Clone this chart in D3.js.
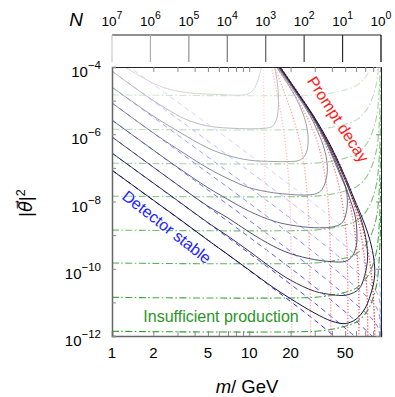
<!DOCTYPE html>
<html>
<head>
<meta charset="utf-8">
<script src="https://cdn.jsdelivr.net/npm/d3@7"></script>
<style>
  body { margin: 0; background: #fff; }
  text { font-family: "Liberation Sans", "DejaVu Sans", sans-serif; }
</style>
</head>
<body>
<svg id="chart" width="395" height="397"></svg>
<script>
// axis ranges and tick labels
const massDomain = [1, 91.19];
const thetaDomain = [1e-12, 1e-4];
const massLabels = [1, 2, 5, 10, 20, 50];
const massMinor = [1,2,3,4,5,6,7,8,9,10,20,30,40,50,60,70,80,90];
const thetaExp = [-4, -6, -8, -10, -12];
const thetaMinor = [-4,-5,-6,-7,-8,-9,-10,-11,-12];
const nExp = [7, 6, 5, 4, 3, 2, 1, 0];

// full event-number contours, [m / GeV, log10 theta^2], one per N = 10^7 .. 10^0
const solid7 = [[1.245,-4.0],[1.6,-4.27],[2.06,-4.51],[2.65,-4.67],[3.72,-4.77],[6.16,-4.82],[9.38,-4.82],[10.55,-4.71],[11.3,-4.51],[11.8,-4.27],[12.3,-4.0]];
const solid6 = [[1,-4.12],[1.6,-4.73],[2.44,-5.22],[3.42,-5.55],[4.78,-5.74],[7.29,-5.82],[13.1,-5.82],[14.8,-5.76],[15.9,-5.52],[16.3,-5.13],[16.1,-4.54],[15.3,-4.0]];
const solid5 = [[1,-4.6],[2,-5.46],[3,-5.9],[5,-6.41],[7,-6.63],[10,-6.77],[15,-6.81],[20,-6.81],[23,-6.78],[25.3,-6.65],[26.6,-6.41],[26.8,-6.05],[25.8,-5.64],[23.7,-5.22],[20.5,-4.71],[15.8,-4.0]];
const solid4 = [[1,-5.07],[2,-5.96],[3,-6.44],[5,-7.01],[7,-7.32],[10,-7.59],[15,-7.74],[20,-7.79],[25,-7.81],[30,-7.78],[33.1,-7.69],[35.5,-7.48],[37,-7.13],[36.7,-6.77],[34.3,-6.29],[27.8,-5.46],[21.2,-4.71],[16.1,-4.0]];
const solid3 = [[1,-5.58],[2,-6.47],[3,-6.98],[5,-7.59],[7,-7.94],[10,-8.29],[15,-8.58],[20,-8.7],[30,-8.78],[40,-8.76],[45,-8.7],[48,-8.61],[50.5,-8.4],[51.8,-8.11],[50.9,-7.66],[45.6,-7.18],[36.7,-6.29],[28.5,-5.46],[21.6,-4.71],[16.3,-4.0]];
const solid2 = [[1,-6.08],[2,-6.98],[3,-7.5],[5,-8.14],[7,-8.49],[10,-8.91],[15,-9.33],[20,-9.55],[30,-9.73],[40,-9.79],[50,-9.78],[56.5,-9.62],[60.3,-9.3],[60.9,-8.94],[59.3,-8.46],[54.5,-7.96],[46.4,-7.18],[37.3,-6.29],[28.9,-5.46],[21.8,-4.71],[16.4,-4.0]];
const solid1 = [[1,-6.56],[2,-7.45],[3,-7.97],[5,-8.63],[7,-9.03],[10,-9.48],[15,-10.01],[20,-10.34],[30,-10.67],[40,-10.77],[50,-10.79],[60,-10.67],[65,-10.52],[69.5,-10.19],[72.5,-9.8],[72.5,-9.45],[69.5,-8.94],[64.4,-8.46],[57.3,-7.96],[47.9,-7.18],[37.9,-6.29],[29.1,-5.46],[21.9,-4.71],[16.6,-4.0]];
const solid0 = [[1,-7.07],[2,-7.96],[3,-8.48],[5,-9.15],[7,-9.58],[10,-10.04],[15,-10.56],[20,-10.89],[30,-11.32],[40,-11.56],[50,-11.63],[60,-11.5],[70,-11.17],[75,-10.88],[80,-10.49],[82,-10.19],[82,-9.95],[78.9,-9.45],[73.1,-8.94],[66.1,-8.46],[58.7,-7.96],[48.8,-7.18],[38.6,-6.29],[29.5,-5.46],[22.1,-4.71],[16.8,-4.0]];

// detector-stable (long lived) approximation
const blue7 = [[1,-3.62],[3,-5.04],[10,-6.6],[30,-8.08],[60,-9.1],[80,-9.57],[88,-9.87],[90,-10.47],[91,-11.6]];
const blue6 = [[1,-4.12],[3,-5.54],[10,-7.1],[30,-8.58],[60,-9.6],[80,-10.07],[88,-10.37],[90,-10.97],[91,-12.1]];
const blue5 = [[1,-4.6],[3,-6.02],[10,-7.58],[30,-9.06],[60,-10.08],[80,-10.55],[88,-10.85],[90,-11.45],[91,-12.6]];
const blue4 = [[1,-5.07],[3,-6.49],[10,-8.05],[30,-9.53],[60,-10.55],[80,-11.02],[88,-11.32],[90,-11.92],[91,-13]];
const blue3 = [[1,-5.58],[3,-7.0],[10,-8.56],[30,-10.04],[60,-11.06],[80,-11.53],[88,-11.83],[90,-12.43]];
const blue2 = [[1,-6.08],[3,-7.5],[10,-9.06],[30,-10.54],[60,-11.56],[80,-12.03]];
const blue1 = [[1,-6.56],[3,-7.98],[10,-9.54],[30,-11.02],[60,-12.04]];
const blue0 = [[1,-7.07],[3,-8.49],[10,-10.05],[30,-11.53],[60,-12.55]];

// prompt decay approximation
const red7 = [[12.7,-4],[12.91,-6.47],[13.35,-9.45],[14.29,-12]];
const red6 = [[14.53,-4],[16.3,-4.98],[17.78,-5.875],[19.0,-6.92],[19.67,-7.87],[20.2,-9.5],[20.35,-12]];
const red5 = [[15.28,-4],[20.01,-5.28],[24.09,-6.47],[26.63,-7.96],[27.55,-9.74],[28.02,-12]];
const red4 = [[15.8,-4],[23.68,-5.13],[30.98,-6.17],[36.06,-7.36],[38.58,-8.85],[39.24,-12]];
const red3 = [[16.21,-4],[25.77,-5.19],[36.06,-6.32],[44.87,-7.51],[50.5,-8.85],[52.2,-10.34],[52.2,-12]];
const red2 = [[16.49,-4],[27.09,-5.28],[39.92,-6.47],[52.2,-7.81],[59.75,-9.15],[62.84,-10.64],[62.84,-12]];
const red1 = [[16.69,-4],[28.02,-5.34],[41.97,-6.62],[56.8,-7.96],[67.2,-9.3],[71.9,-10.64],[73.1,-12]];
const red0 = [[16.85,-4],[28.5,-5.4],[43.4,-6.71],[59.75,-8.11],[73.1,-9.45],[79.6,-10.64],[82.3,-12]];

// insufficient production limit
const green7 = [[1,-4.83],[30,-4.83],[40,-4.77],[50,-4.68],[60,-4.56],[70,-4.31],[75,-4.11],[80,-3.83]];
const green6 = [[1,-5.85],[30,-5.85],[40,-5.79],[50,-5.7],[60,-5.58],[70,-5.33],[75,-5.13],[80,-4.85],[85,-4.43],[88,-3.85]];
const green5 = [[1,-6.86],[30,-6.86],[40,-6.8],[50,-6.71],[60,-6.59],[70,-6.34],[75,-6.14],[80,-5.86],[85,-5.44],[88,-4.86],[90,-4.06]];
const green4 = [[1,-7.84],[30,-7.84],[40,-7.78],[50,-7.69],[60,-7.57],[70,-7.32],[75,-7.12],[80,-6.84],[85,-6.42],[88,-5.84],[90,-5.04],[91,-4.24]];
const green3 = [[1,-8.85],[30,-8.85],[40,-8.79],[50,-8.7],[60,-8.58],[70,-8.33],[75,-8.13],[80,-7.85],[85,-7.43],[88,-6.85],[90,-6.05],[91,-5.25]];
const green2 = [[1,-9.83],[30,-9.83],[40,-9.77],[50,-9.68],[60,-9.56],[70,-9.31],[75,-9.11],[80,-8.83],[85,-8.41],[88,-7.83],[90,-7.03],[91,-6.23]];
const green1 = [[1,-10.85],[30,-10.85],[40,-10.79],[50,-10.7],[60,-10.58],[70,-10.33],[75,-10.13],[80,-9.85],[85,-9.43],[88,-8.85],[90,-8.05],[91,-7.25]];
const green0 = [[1,-11.86],[30,-11.86],[40,-11.8],[50,-11.71],[60,-11.59],[70,-11.34],[75,-11.14],[80,-10.86],[85,-10.44],[88,-9.86],[90,-9.06],[91,-8.26]];

const solidCurves = [solid7, solid6, solid5, solid4, solid3, solid2, solid1, solid0];
const blueCurves = [blue7, blue6, blue5, blue4, blue3, blue2, blue1, blue0];
const redCurves = [red7, red6, red5, red4, red3, red2, red1, red0];
const greenCurves = [green7, green6, green5, green4, green3, green2, green1, green0];

// colours, N = 10^7 (light) ... 10^0 (dark)
const solidColors = ["#d6d6da","#bcbcc4","#a0a0ac","#84849a","#686884","#4c4c6c","#303054","#14143c"];
const greyTicks = ["#c8c8c8","#adadad","#939393","#787878","#5e5e5e","#434343","#292929","#000000"];
const blueColors = ["#d4d4ff","#bcbcff","#a4a4ff","#8c8cff","#7474ff","#5c5cff","#4444ff","#2c2cff"];
const redColors = ["#ffd4d4","#ffbcbc","#ffa4a4","#ff8c8c","#ff7474","#ff5c5c","#ff4444","#ff2020"];
const greenColors = ["#cfe8cf","#b9deb9","#a2d4a2","#8bc98b","#74be74","#5db35d","#46a846","#2f9d2f"];

const svg = d3.select("#chart");
const margin = {left: 112, right: 14, top: 67, bottom: 61};
const W = 395, H = 397;

const x = d3.scaleLog().domain(massDomain).range([margin.left, W - margin.right]);
const y = d3.scaleLog().domain(thetaDomain).range([H - margin.bottom, margin.top]);
const xN = d3.scaleLog().domain([1e7, 1]).range([margin.left, W - margin.right]);

svg.append("defs").append("clipPath").attr("id", "plotclip")
  .append("rect")
  .attr("x", x.range()[0]).attr("y", y.range()[1])
  .attr("width", x.range()[1] - x.range()[0])
  .attr("height", y.range()[0] - y.range()[1]);

const line = d3.line()
  .x(d => x(d[0]))
  .y(d => y(Math.pow(10, d[1])))
  .curve(d3.curveCatmullRom.alpha(0.5));

const plot = svg.append("g").attr("clip-path", "url(#plotclip)");

function drawFamily(curves, colors, width, dash) {
  curves.forEach((c, i) => {
    plot.append("path")
      .attr("d", line(c))
      .attr("fill", "none")
      .attr("stroke", colors[i])
      .attr("stroke-width", width)
      .attr("stroke-dasharray", dash);
  });
}

drawFamily(greenCurves, greenColors, 1.1, "7,2.5,1.5,2.5");
drawFamily(blueCurves, blueColors, 1, "5,4");
drawFamily(redCurves, redColors, 1.3, "1.2,1.8");
drawFamily(solidCurves, solidColors, 1, null);

// axes: ticks inside the frame
const xAxisB = d3.axisBottom(x).tickValues(massMinor).tickSize(-5).tickFormat("");
const xAxisT = d3.axisTop(x).tickValues(massMinor).tickSize(-5).tickFormat("");
const yVals = thetaMinor.map(e => Math.pow(10, e));
const yAxisL = d3.axisLeft(y).tickValues(yVals).tickSize(-4).tickFormat("");
const yAxisR = d3.axisRight(y).tickValues(thetaExp.map(e => Math.pow(10, e))).tickSize(-5).tickFormat("");

svg.append("g").attr("transform", `translate(0,${y.range()[0]})`).call(xAxisB)
  .call(g => g.selectAll("line").attr("stroke", "#888"))
  .call(g => g.select(".domain").attr("stroke", "#666").attr("stroke-width", 1.5));
svg.append("g").attr("transform", `translate(0,${y.range()[1]})`).call(xAxisT)
  .call(g => g.selectAll("line").attr("stroke", "#888"))
  .call(g => g.select(".domain").attr("stroke", "#222"));
svg.append("g").attr("transform", `translate(${x.range()[0]},0)`).call(yAxisL)
  .call(g => g.selectAll("line").attr("stroke", "#888"))
  .call(g => g.select(".domain").attr("stroke", "#666").attr("stroke-width", 1.5));
svg.append("g").attr("transform", `translate(${x.range()[1]},0)`).call(yAxisR)
  .call(g => g.selectAll("line").attr("stroke", "#888"))
  .call(g => g.select(".domain").attr("stroke", "#222"));

// tick labels
svg.append("g").selectAll("text").data(massLabels).join("text")
  .attr("x", d => x(d)).attr("y", 358)
  .attr("text-anchor", "middle").attr("font-size", 15)
  .text(d => d);

const yl = svg.append("g").selectAll("text").data(thetaExp).join("text")
  .attr("x", 101).attr("y", d => y(Math.pow(10, d)) + 10)
  .attr("text-anchor", "end").attr("font-size", 15);
yl.append("tspan").text("10");
yl.append("tspan").attr("dy", -8).attr("font-size", 11.5).text(d => "\u2212" + Math.abs(d));

// N axis on top
const nTop = 35, nBottom = 62;
svg.append("line").attr("x1", xN(1e7)).attr("x2", xN(1)).attr("y1", nTop).attr("y2", nTop)
  .attr("stroke", "#222").attr("stroke-width", 1.2);
svg.append("g").selectAll("line").data(nExp).join("line")
  .attr("x1", d => xN(Math.pow(10, d))).attr("x2", d => xN(Math.pow(10, d)))
  .attr("y1", nTop).attr("y2", nBottom)
  .attr("stroke", (d, i) => greyTicks[i]).attr("stroke-width", 1.2);
const nl = svg.append("g").selectAll("text").data(nExp).join("text")
  .attr("x", d => xN(Math.pow(10, d))).attr("y", 26)
  .attr("text-anchor", "middle").attr("font-size", 13.5);
nl.append("tspan").text("10");
nl.append("tspan").attr("dy", -7).attr("font-size", 10.5).text(d => d);
svg.append("text").attr("x", 76).attr("y", 26).attr("text-anchor", "middle")
  .attr("font-size", 19).attr("font-style", "italic").text("N");

// axis titles
const xt = svg.append("text").attr("x", 247).attr("y", 393).attr("text-anchor", "middle").attr("font-size", 18.5);
xt.append("tspan").attr("font-style", "italic").text("m");
xt.append("tspan").text("/ GeV");
const yt = svg.append("text").attr("transform", "translate(32,203) rotate(-90)")
  .attr("text-anchor", "middle").attr("font-size", 18);
yt.append("tspan").text("|");
yt.append("tspan").attr("font-style", "italic").text("\u03b8\u20d7");
yt.append("tspan").text("|");
yt.append("tspan").attr("dy", -7).attr("font-size", 12.5).text("2");

// region labels
svg.append("text").attr("transform", "translate(166,228) rotate(38)")
  .attr("text-anchor", "middle").attr("dominant-baseline", "middle")
  .attr("font-size", 16).attr("fill", "#2323ff").text("Detector stable");
svg.append("text").attr("transform", "translate(337,120) rotate(57)")
  .attr("text-anchor", "middle").attr("dominant-baseline", "middle")
  .attr("font-size", 16).attr("fill", "#ff1a1a").text("Prompt decay");
svg.append("text").attr("x", 221).attr("y", 322)
  .attr("text-anchor", "middle").attr("font-size", 16).attr("fill", "#2a962a")
  .text("Insufficient production");
</script>
</body>
</html>
